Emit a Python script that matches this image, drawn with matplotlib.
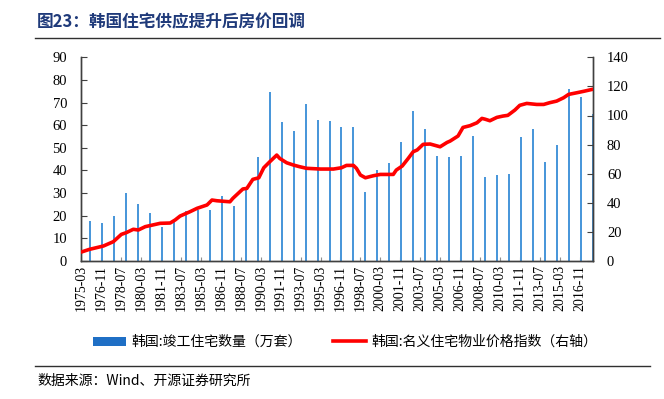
import matplotlib
matplotlib.use("Agg")
import matplotlib.pyplot as plt
from matplotlib.patches import Patch
from matplotlib.lines import Line2D

plt.rcParams['font.family'] = ['Liberation Serif', 'Noto Sans CJK SC', 'DejaVu Sans']

# monthly category axis 1975-03 .. 2017-12
start_year, start_month = 1975, 3
end_year, end_month = 2017, 12
months = []
y, m = start_year, start_month
while (y, m) <= (end_year, end_month):
    months.append(f"{y}-{m:02d}")
    m += 1
    if m > 12:
        m = 1
        y += 1
idx = {d: i for i, d in enumerate(months)}

# Annual completions (10k units), dated December of each year
bar_years = list(range(1975, 2018))
completions = [17.6, 17.0, 20.0, 30.0, 25.0, 21.0, 15.0, 18.0, 22.0, 22.5,
               22.5, 28.7, 24.3, 31.6, 46.0, 74.7, 61.2, 57.5, 69.4, 62.2,
               61.8, 59.0, 59.4, 30.3, 40.1, 43.1, 52.6, 66.3, 58.2, 46.2,
               46.0, 46.6, 55.3, 36.9, 37.9, 38.4, 54.7, 58.4, 43.7, 51.2,
               76.2, 72.3, 65.0]

# Nominal housing price index (right axis)
price_dates = ['1975-03', '1975-11', '1977-01', '1977-11', '1978-07', '1978-12',
               '1979-07', '1979-12', '1980-07', '1981-10', '1982-08', '1983-01',
               '1983-06', '1984-04', '1984-11', '1985-09', '1986-02', '1986-07',
               '1987-08', '1987-11', '1988-09', '1989-01', '1989-07', '1990-01',
               '1990-06', '1990-12', '1991-07', '1991-10', '1992-05', '1992-12',
               '1993-06', '1994-01', '1995-03', '1996-04', '1996-12', '1997-05',
               '1997-12', '1998-03', '1998-07', '1998-12', '1999-08', '2000-03',
               '2001-04', '2001-07', '2002-01', '2002-07', '2002-12', '2003-04',
               '2003-10', '2004-05', '2005-03', '2005-10', '2006-01', '2006-09',
               '2007-02', '2007-09', '2008-04', '2008-09', '2008-12', '2009-05',
               '2009-12', '2010-06', '2010-11', '2011-06', '2011-11', '2012-06',
               '2013-04', '2013-11', '2014-05', '2014-12', '2015-07', '2015-12',
               '2016-08', '2017-03', '2017-12']
price_index = [6.2, 8.0, 10.3, 13.3, 18.3, 19.5,
               21.8, 21.3, 23.6, 25.9, 26.1, 28.2,
               30.9, 33.9, 36.2, 38.5, 41.9, 41.4,
               40.7, 43.1, 49.5, 49.9, 56.1, 57.2,
               64.1, 68.2, 72.8, 70.5, 67.5, 65.9,
               64.8, 63.7, 63.2, 63.2, 64.1, 65.7,
               65.7, 63.7, 59.1, 57.2, 58.6, 59.5,
               59.5, 62.5, 65.3, 70.5, 75.1, 76.3,
               80.2, 80.4, 78.5, 81.5, 82.4, 85.9,
               91.8, 93.0, 95.0, 98.0, 97.5, 96.4,
               98.7, 99.6, 100.1, 103.7, 107.0, 108.3,
               107.6, 107.6, 108.8, 109.9, 112.2, 114.5,
               115.6, 116.6, 118.0]

xtick_labels = months[::20]

W, H = 664, 399
fig = plt.figure(figsize=(W / 100, H / 100), dpi=100)
L, R, T, B = 81, 593, 57.3, 261
ax = fig.add_axes([L / W, 1 - B / H, (R - L) / W, (B - T) / H])
ax2 = ax.twinx()

bar_x = [idx[f"{yr}-12"] for yr in bar_years]
ax.bar(bar_x, completions, width=2.0, color='#4A97DA', linewidth=0, zorder=2)
ax.set_ylim(0, 90)
ax.set_yticks(range(0, 91, 10))
ax.set_xlim(-0.5, len(months) - 0.5)
tick_pos = [idx[d] for d in xtick_labels]
ax.set_xticks(tick_pos)
ax.set_xticklabels(xtick_labels, rotation=90, fontsize=10)

price_x = [idx[d] for d in price_dates]
ax2.plot(price_x, price_index, color='#FF0000', linewidth=2.6, solid_capstyle='round',
         solid_joinstyle='round', zorder=3)
ax2.set_ylim(0, 140)
ax2.set_yticks(range(0, 141, 20))

for a in (ax, ax2):
    a.spines['top'].set_visible(False)
    for s in ('left', 'right', 'bottom'):
        a.spines[s].set_color('#404040')
        a.spines[s].set_linewidth(1.0)
ax.tick_params(axis='y', direction='in', length=4, labelsize=10.5, color='#404040', pad=10)
ax2.tick_params(axis='y', direction='in', length=4, labelsize=10.5, color='#404040', pad=10)
ax.tick_params(axis='x', direction='in', length=3, color='#909090', pad=3)
ax2.set_xlim(ax.get_xlim())

# Title
fig.text(37 / W, 1 - 22 / H, '图23：韩国住宅供应提升后房价回调', fontsize=12, fontweight='bold',
         color='#1F3A7A', va='center', ha='left', family=['Noto Sans CJK SC'])
fig.add_artist(Line2D([35 / W, 660 / W], [1 - 38 / H, 1 - 38 / H], color='#303030', linewidth=1.0))

# Legend
handles = [Patch(facecolor='#1F6FC5', edgecolor='none'),
           Line2D([0], [0], color='#FF0000', linewidth=2.6)]
labels = ['韩国:竣工住宅数量（万套）', '韩国:名义住宅物业价格指数（右轴）']
fig.legend(handles, labels, loc='center', bbox_to_anchor=(345 / W, 1 - 342 / H),
           ncol=2, frameon=False, fontsize=10, handlelength=2.4, handleheight=0.6,
           columnspacing=2.2, handletextpad=0.4,
           prop={'family': ['Noto Sans CJK SC'], 'size': 10})

# Source
fig.add_artist(Line2D([35 / W, 650 / W], [1 - 366 / H, 1 - 366 / H], color='#303030', linewidth=1.0))
fig.text(37 / W, 1 - 381 / H, '数据来源：Wind、开源证券研究所', fontsize=10, va='center', ha='left',
         family=['Noto Sans CJK SC', 'DejaVu Sans'])

fig.savefig('out.png', dpi=100)
